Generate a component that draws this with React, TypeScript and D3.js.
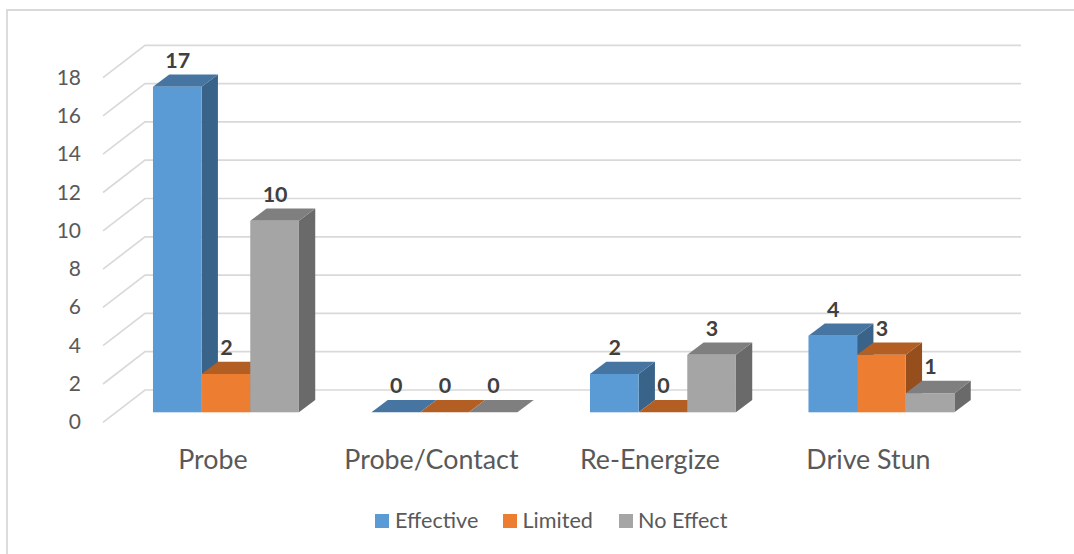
import React from "react";
import * as d3 from "d3";

const categories = ["Probe", "Probe/Contact", "Re-Energize", "Drive Stun"];
const seriesNames = ["Effective", "Limited", "No Effect"];
const effective = [17, 0, 2, 4];
const limited = [2, 0, 0, 3];
const noEffect = [10, 0, 3, 1];
const yTicks = [0, 2, 4, 6, 8, 10, 12, 14, 16, 18];

const front = ["#5b9bd5", "#ed7d31", "#a5a5a5"];
const topC = ["#4675a1", "#b35e22", "#7f7f7f"];
const side = ["#3a6389", "#964f1c", "#6a6a6a"];
const FONT = "Lato, 'Open Sans', sans-serif";

export default function App() {
  const values = [effective, limited, noEffect];
  const W = 1074, H = 554;
  const y = d3.scaleLinear().domain([0, 18]).range([412.3, 67.6]);
  const x0 = d3.scaleBand<string>().domain(categories).range([116.7, 990.7]).paddingInner(0.332).paddingOuter(0.166);
  const x1 = d3.scaleBand<string>().domain(seriesNames).range([0, x0.bandwidth()]);
  const dx = 16.3, dy = 12.3;
  const wallX0 = 145, wallX1 = 1021, floorX = 103, wallDy = 22.3, floorDy = 10;

  const bars = categories.flatMap((c, ci) =>
    seriesNames.map((s, si) => ({ c, ci, s, si, v: values[si][ci] }))
  );

  const legendItems = [
    { x: 375, tx: 395 },
    { x: 503, tx: 522.5 },
    { x: 619, tx: 638 },
  ];

  return (
    <svg width={W} height={H} style={{ position: "absolute", left: 0, top: 0, background: "#fff" }} fontFamily={FONT}>
      <path d="M7 554V10H1074" fill="none" stroke="#d9d9d9" strokeWidth={1.8} />
      {yTicks.map((t) => (
        <polyline
          key={t}
          stroke="#d9d9d9"
          strokeWidth={1.7}
          fill="none"
          points={`${floorX},${y(t) + floorDy} ${wallX0},${y(t) - wallDy} ${wallX1},${y(t) - wallDy}`}
        />
      ))}
      {yTicks.map((t) => (
        <text key={t} x={81} y={y(t) + floorDy + 7} textAnchor="end" fontSize={21} fill="#595959">
          {t}
        </text>
      ))}
      {bars.map((b) => {
        const l = x0(b.c)! + x1(b.s)!;
        const w = x1.bandwidth();
        const r = l + w;
        const t = y(b.v);
        const base = y(0);
        return (
          <g key={b.c + b.s}>
            <path
              d={`M${r} ${t}L${r + dx} ${t - dy}V${base - dy}L${r} ${base}Z`}
              fill={side[b.si]}
            />
            <path
              d={`M${l} ${t}L${l + dx} ${t - dy}H${r + dx}L${r} ${t}Z`}
              fill={topC[b.si]}
            />
            <rect x={l} y={t} width={w} height={base - t} fill={front[b.si]} />
          </g>
        );
      })}
      {bars.map((b) => {
        const cx = x0(b.c)! + x1(b.s)! + x1.bandwidth() / 2 + 0.5;
        return (
          <text
            key={b.c + b.s}
            x={cx}
            y={y(b.v) - 19}
            textAnchor="middle"
            fontSize={21.5}
            fontWeight={700}
            fill="#404040"
          >
            {b.v}
          </text>
        );
      })}
      {categories.map((c) => (
        <text
          key={c}
          x={x0(c)! + x0.bandwidth() / 2 - 13}
          y={468.5}
          textAnchor="middle"
          fontSize={26.8}
          fill="#595959"
        >
          {c}
        </text>
      ))}
      {seriesNames.map((s, i) => (
        <g key={s}>
          <rect x={legendItems[i].x} y={514} width={14} height={14} fill={front[i]} />
          <text x={legendItems[i].tx} y={528} fontSize={21.6} fill="#595959">
            {s}
          </text>
        </g>
      ))}
    </svg>
  );
}
